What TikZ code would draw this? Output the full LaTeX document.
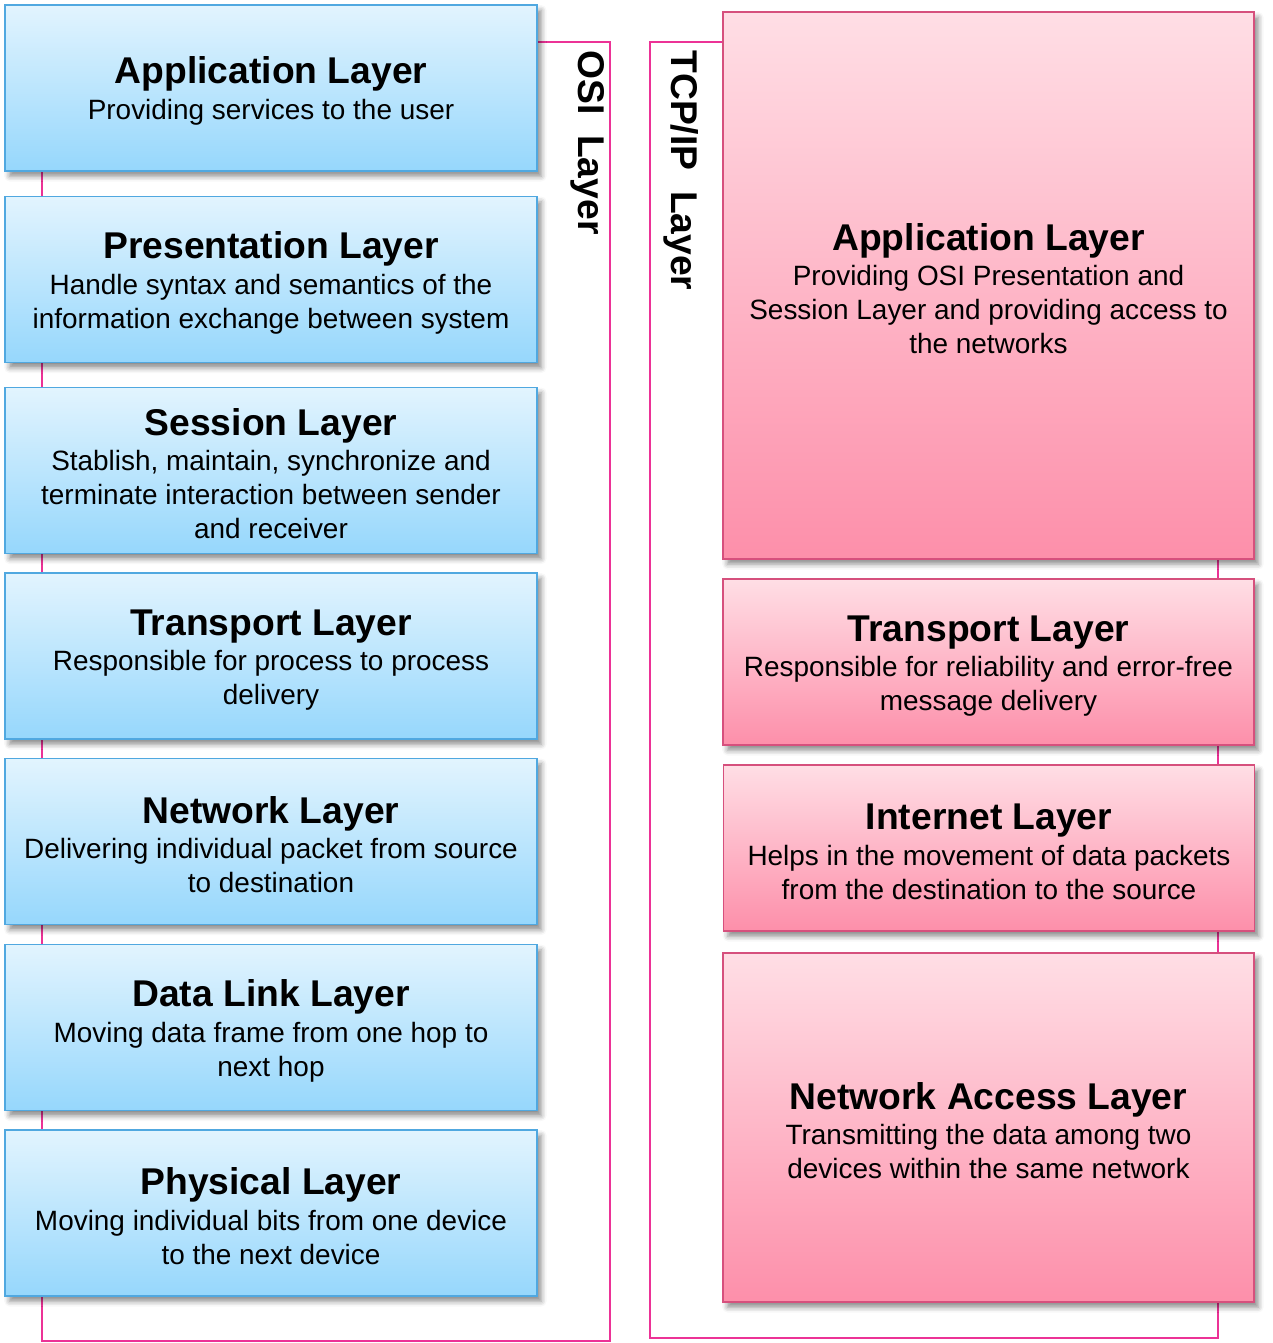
\documentclass[tikz,border=0pt]{standalone}
\usepackage{fontspec}
\setmainfont{Liberation Sans}
\usepackage{tikz}
\usetikzlibrary{shadows.blur}
\definecolor{ositop}{RGB}{226,244,254}
\definecolor{osibot}{RGB}{150,215,252}
\definecolor{osiline}{RGB}{80,168,224}
\definecolor{tcptop}{RGB}{255,222,229}
\definecolor{tcpbot}{RGB}{253,143,170}
\definecolor{tcpline}{RGB}{214,80,125}
\definecolor{framepink}{RGB}{236,50,150}
\tikzstyle{layer}=[rectangle,draw,line width=0.85pt,align=center,inner sep=2pt,font=\fontsize{15.9}{19.3}\selectfont,blur shadow={shadow xshift=2.5pt,shadow yshift=-3pt,shadow blur radius=3pt,shadow opacity=45}]
\tikzstyle{osilayer}=[layer,draw=osiline,top color=ositop,bottom color=osibot,minimum width=10.64cm,minimum height=3.32cm]
\tikzstyle{tcplayer}=[layer,draw=tcpline,top color=tcptop,bottom color=tcpbot,minimum width=10.62cm]
\tikzstyle{frameline}=[draw=framepink,line width=0.85pt]
\tikzstyle{sidelabel}=[rotate=-90,anchor=west,inner sep=0pt,font=\fontsize{21.2}{24}\bfseries]
\newcommand\ttl[1]{\rule{0pt}{19pt}{\fontsize{21.2}{24}\bfseries #1}\\[1pt]}

\begin{document}
\begin{tikzpicture}[x=0.02cm, y=-0.02cm]

  \useasboundingbox (0,0) rectangle (1273,1343);

  % frames behind the layers
  \draw[frameline] (42,42) rectangle (610,1341);
  \draw[frameline] (650,42) rectangle (1218,1338);

  \node[sidelabel] (osi-label) at (588,50) {OSI~~Layer};
  \node[sidelabel] (tcp-label) at (681,50) {TCP/IP~~Layer};

  % OSI model
  \foreach \y/\lname/\lhead/\ltext in {
      88/app/{Application Layer}/{Providing services to the user},
      279.5/pre/{Presentation Layer}/{Handle syntax and semantics of the\\information exchange between system},
      470.5/ses/{Session Layer}/{Stablish, maintain, synchronize and\\terminate interaction between sender\\and receiver},
      656/tra/{Transport Layer}/{Responsible for process to process\\delivery},
      841.5/net/{Network Layer}/{Delivering individual packet from source\\to destination},
      1027.5/dat/{Data Link Layer}/{Moving data frame from one hop to\\next hop},
      1213/phy/{Physical Layer}/{Moving individual bits from one device\\to the next device}}
    \node[osilayer] (osi-\lname) at (271,\y) {\ttl{\lhead}\ltext};

  % TCP/IP model
  \node[tcplayer, minimum height=10.94cm] (tcp-app) at (988.5,285.5)
       {\ttl{Application Layer}Providing OSI Presentation and\\Session Layer and providing access to\\the networks};
  \node[tcplayer, minimum height=3.32cm] (tcp-tra) at (988.5,662)
       {\ttl{Transport Layer}Responsible for reliability and error-free\\message delivery};
  \node[tcplayer, minimum height=3.32cm] (tcp-int) at (989,848)
       {\ttl{Internet Layer}Helps in the movement of data packets\\from the destination to the source};
  \node[tcplayer, minimum height=6.98cm] (tcp-acc) at (988.5,1127.5)
       {\ttl{Network Access Layer}Transmitting the data among two\\devices within the same network};

\end{tikzpicture}
\end{document}
